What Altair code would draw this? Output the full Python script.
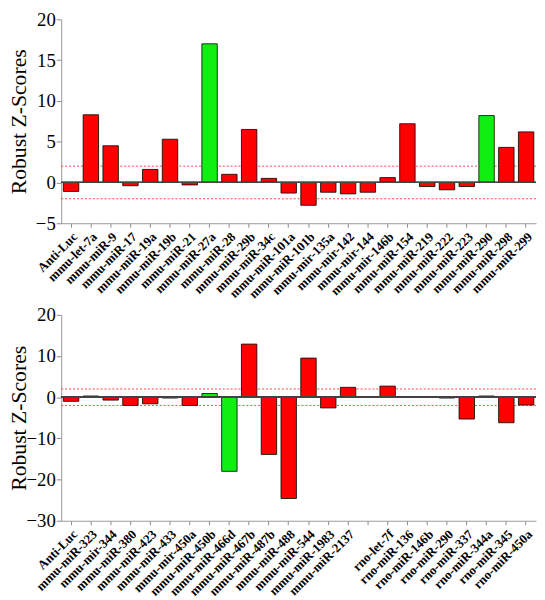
import altair as alt
import pandas as pd

top_labels = ["Anti-Luc", "mmu-let-7a", "mmu-miR-9", "mmu-miR-17", "mmu-miR-19a", "mmu-miR-19b",
              "mmu-miR-21", "mmu-miR-27a", "mmu-miR-28", "mmu-miR-29b", "mmu-miR-34c", "mmu-miR-101a",
              "mmu-miR-101b", "mmu-mir-135a", "mmu-mir-142", "mmu-mir-144", "mmu-mir-146b", "mmu-miR-154",
              "mmu-miR-219", "mmu-miR-222", "mmu-miR-223", "mmu-miR-290", "mmu-miR-298", "mmu-miR-299"]
top_values = [-1.1, 8.3, 4.5, -0.4, 1.6, 5.3, -0.3, 17.0, 1.0, 6.5, 0.5, -1.3,
              -2.8, -1.2, -1.4, -1.2, 0.6, 7.2, -0.5, -0.9, -0.5, 8.2, 4.3, 6.2]
top_hits = ["mmu-miR-27a", "mmu-miR-290"]

bot_labels = ["Anti-Luc", "mmu-miR-323", "mmu-mir-344", "mmu-miR-380", "mmu-miR-423", "mmu-miR-433",
              "mmu-mir-450a", "mmu-miR-450b", "mmu-miR-466d", "mmu-miR-467b", "mmu-miR-487b", "mmu-miR-488",
              "mmu-miR-544", "mmu-miR-1983", "mmu-miR-2137", "rno-let-7f", "rno-miR-136", "rno-miR-146b",
              "rno-miR-290", "rno-miR-337", "rno-miR-344a", "rno-miR-345", "rno-miR-450a"]
bot_values = [-1.0, 0.3, -0.7, -2.0, -1.6, -0.2, -2.0, 0.9, -18.0, 12.9, -13.9, -24.6,
              9.5, -2.6, 2.4, 2.7, 0.15, 0.15, -0.2, -5.3, 0.3, -6.2, -1.9]
bot_hits = ["mmu-miR-450b", "mmu-miR-466d"]
# empty slot between the mmu and rno groups
bot_domain = bot_labels[:15] + [" "] + bot_labels[15:]

threshold = 2

FONT = "Liberation Serif"


def panel(labels, values, hits, domain, ymin, ymax, ystep, h):
    df = pd.DataFrame({"name": labels, "z": values,
                       "hit": ["hit" if l in hits else "other" for l in labels]})
    x = alt.X("name:N", sort=domain,
              scale=alt.Scale(domain=domain, paddingInner=0.22, paddingOuter=0.11),
              axis=alt.Axis(title=None, labelAngle=-45, labelFont=FONT, labelFontWeight="bold",
                            labelFontSize=13, labelColor="black", domainColor="#999999",
                            tickColor="#888888", tickSize=4, labelPadding=3, labelOverlap=False))
    y_axis = alt.Axis(title="Robust Z-Scores", titleFont=FONT, titleFontSize=22,
                      titleFontWeight="normal", titleColor="black", titlePadding=0,
                      labelFont=FONT, labelFontSize=19, labelColor="black",
                      values=list(range(ymin, ymax + 1, ystep)), grid=False,
                      domainColor="#999999", tickColor="#888888", tickSize=5,
                      minExtent=31, maxExtent=31, labelPadding=1)
    bars = alt.Chart(df).mark_bar(stroke="black", strokeWidth=0.8).encode(
        x=x,
        y=alt.Y("z:Q", scale=alt.Scale(domain=[ymin, ymax], nice=False, zero=False), axis=y_axis),
        color=alt.Color("hit:N", scale=alt.Scale(domain=["hit", "other"], range=["#11ee11", "#ff0000"]),
                        legend=None),
    )
    zero = alt.Chart(df).mark_rule(color="#444444", strokeWidth=1).encode(y=alt.datum(0))
    th = pd.DataFrame({"t": [threshold, -threshold]})
    dashed = alt.Chart(th).mark_rule(color="#ff4444", strokeWidth=1, strokeDash=[2, 2]).encode(y="t:Q")
    return alt.layer(dashed, bars, zero).properties(width=482, height=h)


top = panel(top_labels, top_values, top_hits, top_labels, -5, 20, 5, 207)
bottom = panel(bot_labels, bot_values, bot_hits, bot_domain, -30, 20, 10, 209)

chart = alt.vconcat(top, bottom, spacing=5).configure_view(stroke=None).properties(
    padding={"left": 0, "top": -2, "right": 0, "bottom": 0})

chart.save("out.html", embed_options={"renderer": "svg", "actions": False})
